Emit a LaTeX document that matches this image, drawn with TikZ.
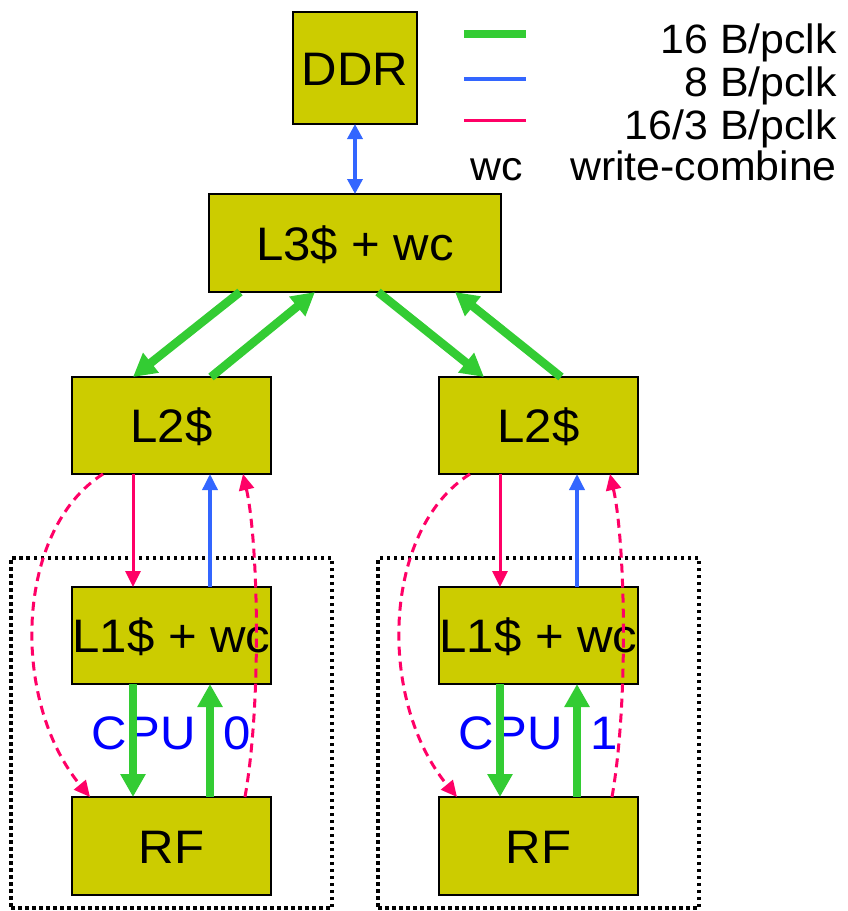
\documentclass[tikz,border=0pt]{standalone}
\usepackage{fontspec}
\setmainfont[FakeStretch=1.045]{Liberation Sans}
\usetikzlibrary{arrows.meta,calc}
\definecolor{boxfill}{RGB}{204,204,0}
\definecolor{bwgreen}{RGB}{51,204,51}
\definecolor{bwblue}{RGB}{51,102,255}
\definecolor{bwred}{RGB}{255,0,102}
\definecolor{cpublue}{RGB}{0,0,255}
\begin{document}
\begin{tikzpicture}[x=1pt,y=-1pt,
 box/.style={draw=black, line width=2pt, fill=boxfill, inner sep=0pt, outer sep=0pt,
   font=\fontsize{47}{50}\selectfont, text height=34pt, text depth=0pt},
 cpubox/.style={draw=black, line width=3.5pt, dash pattern=on 3.5pt off 3.5pt,
   minimum width=321pt, minimum height=350pt, inner sep=0pt, outer sep=0pt},
 fat/.style={draw=bwgreen, line width=8.5pt, -{Triangle[length=23pt,width=24pt]}},
 thinblue/.style={draw=bwblue, line width=3.5pt, -{Triangle[length=16pt,width=15pt]}},
 thinred/.style={draw=bwred, line width=3pt, -{Triangle[length=16pt,width=15pt]}},
 dashred/.style={draw=bwred, line width=3pt, dash pattern=on 9pt off 6pt, -{Triangle[length=16pt,width=15pt]}},
 legtext/.style={font=\fontsize{41}{44}\selectfont, inner sep=0pt},
 cputext/.style={font=\fontsize{47}{50}\selectfont, text=cpublue, inner sep=0pt}]
\useasboundingbox (0,0) rectangle (848,911);

% legend
\draw[bwgreen, line width=8pt] (464,34) -- (526,34);
\draw[bwblue, line width=4pt] (464,79) -- (526,79);
\draw[bwred, line width=3pt] (464,120) -- (526,120);
\node[legtext, anchor=base east] (lg1) at (837,53) {16 B/pclk};
\node[legtext, anchor=base east] (lg2) at (837,96) {8 B/pclk};
\node[legtext, anchor=base east] (lg3) at (837,139) {16/3 B/pclk};
\node[legtext, anchor=base east] (lg4) at (837,180) {write-combine};
\node[legtext, anchor=base west] (lgwc) at (470,180) {wc};

% CPU dotted boxes
\node[cpubox] (cpu0box) at (171.5,733) {};
\node[cpubox] (cpu1box) at (538.5,733) {};

% boxes
\node[box, minimum width=124pt, minimum height=112pt] (DDR) at (355,68) {DDR};
\node[box, minimum width=292pt, minimum height=98pt] (L3) at (355,243) {L3\$ + wc};
\node[box, minimum width=199pt, minimum height=97pt] (L2L) at (171.5,425.5) {L2\$};
\node[box, minimum width=199pt, minimum height=97pt] (L2R) at (538.5,425.5) {L2\$};
\node[box, minimum width=199pt, minimum height=97pt] (L1L) at (171.5,635.5) {L1\$ + wc};
\node[box, minimum width=199pt, minimum height=97pt] (L1R) at (538.5,635.5) {L1\$ + wc};
\node[box, minimum width=199pt, minimum height=98pt] (RFL) at (171.5,846) {RF};
\node[box, minimum width=199pt, minimum height=98pt] (RFR) at (538.5,846) {RF};

% CPU labels
\node[cputext, anchor=base] (cpu0) at (171.5,749) {CPU\hspace{0.6em}0};
\node[cputext, anchor=base] (cpu1) at (538.5,749) {CPU\hspace{0.6em}1};

% DDR <-> L3
\draw[bwblue, line width=3.5pt, {Triangle[length=15pt,width=15pt]}-{Triangle[length=15pt,width=15pt]}] (DDR.south) -- (L3.north);

% L3 <-> L2
\draw[fat] ([xshift=-115pt]L3.south) -- ([xshift=-38.5pt]L2L.north);
\draw[fat] ([xshift=39.5pt]L2L.north) -- ([xshift=-40pt]L3.south);
\draw[fat] ([xshift=23pt]L3.south) -- ([xshift=-54.5pt]L2R.north);
\draw[fat] ([xshift=22.5pt]L2R.north) -- ([xshift=100pt]L3.south);

% left column
\draw[thinred] ([xshift=-38.5pt]L2L.south) -- ([xshift=-38.5pt]L1L.north);
\draw[thinblue] ([xshift=38.5pt]L1L.north) -- ([xshift=38.5pt]L2L.south);
\draw[fat] ([xshift=-38.5pt]L1L.south) -- ([xshift=-38.5pt]RFL.north);
\draw[fat] ([xshift=38.5pt]RFL.north) -- ([xshift=38.5pt]L1L.south);
\draw[dashred] ([xshift=-68.5pt]L2L.south) .. controls +(-88,56) and +(-80,-97) .. ([xshift=-81.5pt]RFL.north);
\draw[dashred] ([xshift=73.5pt]RFL.north) .. controls +(17,-97) and +(15,66) .. ([xshift=71.5pt]L2L.south);

% right column
\draw[thinred] ([xshift=-38.5pt]L2R.south) -- ([xshift=-38.5pt]L1R.north);
\draw[thinblue] ([xshift=38.5pt]L1R.north) -- ([xshift=38.5pt]L2R.south);
\draw[fat] ([xshift=-38.5pt]L1R.south) -- ([xshift=-38.5pt]RFR.north);
\draw[fat] ([xshift=38.5pt]RFR.north) -- ([xshift=38.5pt]L1R.south);
\draw[dashred] ([xshift=-68.5pt]L2R.south) .. controls +(-88,56) and +(-80,-97) .. ([xshift=-81.5pt]RFR.north);
\draw[dashred] ([xshift=73.5pt]RFR.north) .. controls +(17,-97) and +(15,66) .. ([xshift=71.5pt]L2R.south);
\end{tikzpicture}
\end{document}
